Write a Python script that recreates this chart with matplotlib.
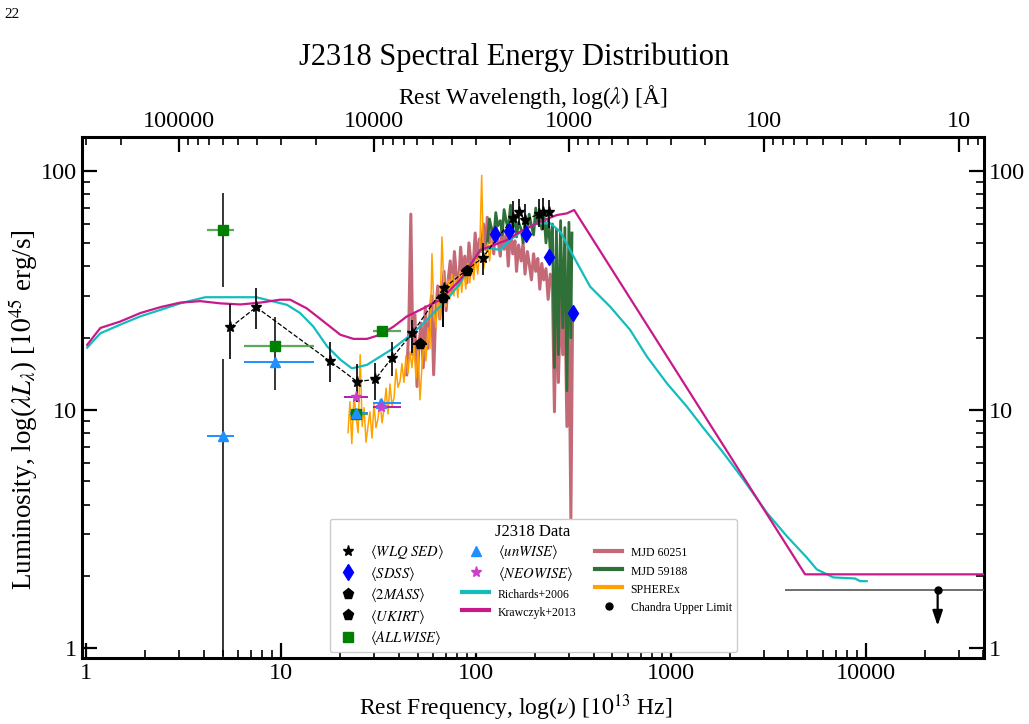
import numpy as np
import matplotlib
matplotlib.use("Agg")
import matplotlib.pyplot as plt
from matplotlib.ticker import FuncFormatter, FixedLocator, LogLocator, NullFormatter

plt.rcParams['font.family'] = ['Liberation Serif', 'DejaVu Serif']
plt.rcParams['mathtext.fontset'] = 'stix'

# frequencies in 1e13 Hz, luminosities in 1e45 erg/s

# WLQ SED composite (stars joined by dashed line)
nu_wlq = [5.48, 7.44, 17.7, 24.5, 30.3, 36.8, 47.1, 68.0, 108, 154, 165, 178, 209, 221, 235]
L_wlq = [22.1, 26.9, 16.0, 13.1, 13.4, 16.4, 21.0, 32.3, 43.4, 63.4, 67.6, 62.3, 66.1, 67.6, 67.6]
wlq_lo = [5.8, 5.2, 3.0, 2.3, 2.4, 2.6, 3.7, 1.0, 6.7, 6.8, 8.2, 7.2, 7.8, 11.0, 9.8]
wlq_hi = [5.7, 5.3, 3.3, 2.5, 2.3, 2.9, 2.8, 1.0, 6.7, 11.7, 8.8, 10.5, 10.3, 9.5, 8.1]

# SDSS photometry
nu_sdss = [124.7, 148, 180, 237, 313]
L_sdss = [54.3, 56.3, 54.3, 43.5, 25.5]

# 2MASS / UKIRT
nu_2mass = [67.2, 89.2]
L_2mass = [29.3, 38.2]
nu2mass_lo = [62.1, 83.7]
nu2mass_hi = [73.5, 96.2]
L2mass_lo = [7.1, 0.0]
L2mass_hi = [1.0, 0.0]
nu_ukirt = [51.6]
L_ukirt = [18.8]
nuukirt_lo = [47.5]
nuukirt_hi = [56.1]

# ALLWISE
nu_allwise = [5.04, 9.31, 24.2, 32.8]
L_allwise = [56.8, 18.4, 9.6, 21.3]
nuall_lo = [4.16, 6.41, 22.4, 29.4]
nuall_hi = [5.69, 14.8, 27.7, 41.1]
Lall_lo = [24.0, 6.3, 0.0, 0.8]
Lall_hi = [23.9, 6.1, 0.0, 0.8]

# unWISE
nu_unwise = [5.04, 9.31, 24.2, 32.6]
L_unwise = [7.73, 15.9, 9.7, 10.7]
nuun_lo = [4.16, 6.41, 22.4, 29.4]
nuun_hi = [5.69, 14.8, 27.7, 41.1]
Lun_lo = [6.8, 0.0, 0.0, 0.0]
Lun_hi = [8.5, 0.0, 0.0, 0.0]

# NEOWISE
nu_neowise = [24.2, 32.6]
L_neowise = [11.3, 10.3]
nuneo_lo = [21.1, 29.4]
nuneo_hi = [27.7, 41.1]

# Chandra upper limit
nu_chandra = [23300]
L_chandra = [1.75]
nu_chandra_lo = [3850]
nu_chandra_hi = [60000]
L_chandra_arrow = [1.24]

# Richards+2006 mean quasar SED
nu_rich = [1.01, 1.18, 1.49, 1.89, 2.40, 3.03, 4.08, 7.44, 9.13, 10.7, 12.5, 14.6, 17.2,
           20.1, 23.0, 27.5, 32.2, 37.7, 44.1, 51.6, 60.4, 70.7, 82.8, 89.6, 105, 118,
           133, 149, 175, 205, 240, 270, 316, 384, 487, 616, 751, 951, 1204, 1464,
           1854, 2349, 3096, 3920, 4965, 5588, 6797, 8780, 9316, 10080]
L_rich = [18.2, 20.9, 22.7, 24.6, 26.2, 27.9, 29.6, 29.6, 28.4, 27.5, 25.4, 22.3, 18.4,
          16.2, 14.9, 15.4, 16.7, 18.1, 20.0, 22.3, 25.4, 28.9, 33.9, 38.5, 46.7, 47.5,
          46.7, 51.4, 56.6, 60.4, 60.4, 55.7, 43.8, 32.8, 27.0, 21.6, 16.7, 12.9, 10.3, 8.38,
          6.59, 5.09, 3.70, 2.95, 2.40, 2.14, 1.98, 1.96, 1.91, 1.91]

# Krawczyk+2013 mean quasar SED
nu_kraw = [1.01, 1.18, 1.49, 1.89, 2.40, 3.03, 3.84, 4.87, 6.16, 7.80, 9.88, 11.1, 13.5,
           16.5, 20.1, 23.5, 27.5, 32.2, 37.7, 44.1, 51.6, 65.4, 82.8, 105, 123, 144,
           168, 213, 259, 292, 318, 4866, 45000]
L_kraw = [18.7, 22.0, 23.4, 25.4, 26.9, 28.1, 28.5, 27.9, 27.6, 28.1, 28.9, 28.9, 26.6,
          23.4, 20.6, 19.8, 19.8, 20.6, 22.3, 24.6, 26.2, 28.9, 35.0, 46.7, 49.0, 51.4,
          55.7, 61.4, 65.4, 66.5, 68.7, 2.04, 2.04]

# spectra
nu_mjd60251 = [44.0, 45.1, 46.2, 47.3, 48.5, 49.7, 50.9, 52.2, 53.5, 54.8, 56.2, 57.6, 59.0,
               60.5, 62.0, 63.5, 65.1, 66.7, 68.4, 70.1, 71.8, 73.6, 75.4, 77.3, 79.2, 81.2,
               83.2, 85.3, 87.4, 89.6, 91.8, 94.1, 96.4, 98.8, 101, 104, 106, 109, 112, 114,
               117, 120, 123, 126, 129, 133, 136, 139, 143, 146, 150, 154, 158, 161, 165,
               170, 174, 178, 183, 187, 192, 197, 202, 207, 212, 217, 222, 228, 234, 240,
               246, 252, 258, 264, 271, 278, 285, 292, 299, 306, 312]
L_mjd60251 = [14, 22, 66, 17, 25, 12.5, 19, 23, 15, 27, 18, 24, 30,
              14, 26, 33, 24, 31, 38, 26, 35, 42, 31, 46, 36, 33,
              48, 37, 44, 34, 50, 41, 39, 55, 43, 52, 46, 60, 47, 64,
              50, 58, 45, 61, 52, 44, 59, 47, 54, 40, 57, 45, 51, 38, 49,
              42, 50, 37, 46, 41, 35, 45, 38, 43, 32, 41, 35, 39, 29, 37,
              33, 9.8, 34, 13, 29, 17, 30, 8.5, 25, 3.5, 24]

nu_mjd59188 = [114, 117, 120, 123, 126, 129, 133, 136, 139, 143, 146, 150, 154, 158, 161,
               165, 170, 174, 178, 183, 187, 192, 197, 202, 207, 212, 217, 222, 228, 234,
               240, 246, 252, 258, 264, 271, 278, 285, 292, 299, 306, 310]
L_mjd59188 = [50, 63, 57, 52, 67, 59, 62, 54, 69, 61, 57, 72, 58, 65, 53,
              61, 57, 50, 62, 56, 66, 59, 54, 70, 60, 66, 57, 68, 50, 63,
              46, 60, 15, 57, 17, 62, 22, 58, 12, 61, 20, 55]

nu_spherex = [22.0, 22.5, 23.0, 23.6, 24.2, 24.8, 25.4, 26.0, 26.6, 27.2, 27.9, 28.5, 29.2,
              29.9, 30.6, 31.3, 32.1, 32.9, 33.7, 34.5, 35.3, 36.1, 37.0, 37.9, 38.8, 39.7,
              40.7, 41.6, 42.6, 43.6, 44.7, 45.7, 46.8, 48.0, 49.1, 50.3, 51.5, 52.7, 54.0,
              55.2, 56.6, 57.9, 59.3, 60.7, 62.1, 63.6, 65.1, 66.7, 68.3, 69.9, 71.5, 73.2,
              75.0, 76.8, 78.6, 80.5, 82.4, 84.3, 86.3, 88.4, 90.5, 92.7, 94.9, 97.1, 99.4,
              101.8, 104.2, 106.7, 109.2, 111.8, 114.5, 117.2, 120.0]
L_spherex = [8.0, 10.8, 7.2, 11.5, 9.3, 8.0, 17.0, 8.5, 10.2, 7.3, 8.6, 9.8, 7.6,
             10.6, 8.4, 9.1, 11.0, 8.8, 10.2, 12.3, 9.6, 12.8, 10.4, 11.2, 14.8, 12.4,
             13.2, 15.6, 13.0, 16.8, 14.2, 17.5, 15.0, 18.6, 13.5, 17.8, 11.0, 15.2, 19.5,
             16.0, 22.0, 18.0, 45.0, 26.0, 22.0, 30.0, 24.0, 53.0, 33.0, 27.0, 35.0, 29.0,
             37.0, 30.0, 36.0, 29.5, 38.0, 31.0, 39.0, 32.0, 41.0, 34.0, 42.0, 35.0, 44.0,
             37.0, 46.0, 96.0, 39.0, 44.0, 50.0, 42.0, 52.0]

# top axis ticks (rest wavelength, Angstrom)
lam_ticks = [100000, 10000, 1000, 100, 10]

C_RICH = '#14bdbd'
C_KRAW = '#c8198b'
C_60251 = '#c46a77'
C_59188 = '#2f7038'
C_SPHX = '#ffa200'
FS = 17.5

fig = plt.figure(figsize=(10.29, 7.24), dpi=100)
ax = fig.add_axes([0.0797, 0.0912, 0.8766, 0.7196])
ax.set_xscale('log')
ax.set_yscale('log')

# spectra underneath everything
ax.plot(nu_mjd60251, L_mjd60251, color=C_60251, lw=2.2, zorder=1, label='MJD 60251')
ax.plot(nu_mjd59188, L_mjd59188, color=C_59188, lw=2.0, zorder=1.2, label='MJD 59188')
ax.plot(nu_spherex, L_spherex, color=C_SPHX, lw=1.1, zorder=1.4, label='SPHEREx')

# model SEDs
ax.plot(nu_rich, L_rich, color=C_RICH, lw=1.6, zorder=3, label='Richards+2006')
ax.plot(nu_kraw, L_kraw, color=C_KRAW, lw=1.6, zorder=3, label='Krawczyk+2013')

# WLQ SED
ax.plot(nu_wlq, L_wlq, 'k--', lw=0.9, zorder=4)
ax.errorbar(nu_wlq, L_wlq, yerr=[wlq_lo, wlq_hi], fmt='none', ecolor='k', elinewidth=1.2, zorder=4)
ax.plot(nu_wlq, L_wlq, '*', color='k', ms=8, ls='none', zorder=6, label=r'$\langle WLQ\ SED\rangle$')

# SDSS
ax.plot(nu_sdss, L_sdss, 'd', color='blue', ms=8, ls='none', zorder=6, label=r'$\langle SDSS\rangle$')

# 2MASS / UKIRT
x2 = np.array(nu_2mass)
ax.errorbar(nu_2mass, L_2mass, xerr=[x2 - nu2mass_lo, np.array(nu2mass_hi) - x2],
            yerr=[L2mass_lo, L2mass_hi], fmt='none', ecolor='k', elinewidth=1.4, zorder=5)
ax.plot(nu_2mass, L_2mass, 'p', color='k', ms=8, ls='none', zorder=6, label=r'$\langle 2MASS\rangle$')
xu = np.array(nu_ukirt)
ax.errorbar(nu_ukirt, L_ukirt, xerr=[xu - nuukirt_lo, np.array(nuukirt_hi) - xu],
            fmt='none', ecolor='k', elinewidth=1.4, zorder=5)
ax.plot(nu_ukirt, L_ukirt, 'p', color='k', ms=8, ls='none', zorder=6, label=r'$\langle UKIRT\rangle$')

# ALLWISE
xa = np.array(nu_allwise)
ax.errorbar(nu_allwise, L_allwise, xerr=[xa - nuall_lo, np.array(nuall_hi) - xa],
            fmt='none', ecolor='#3f9a3f', elinewidth=1.6, alpha=0.85, zorder=5)
ax.errorbar(nu_allwise, L_allwise, yerr=[Lall_lo, Lall_hi], fmt='none', ecolor='k',
            elinewidth=1.1, zorder=5)
ax.plot(nu_allwise, L_allwise, 's', color='green', ms=7.5, ls='none', zorder=6, label=r'$\langle ALLWISE\rangle$')

# unWISE
xw = np.array(nu_unwise)
ax.errorbar(nu_unwise, L_unwise, xerr=[xw - nuun_lo, np.array(nuun_hi) - xw],
            fmt='none', ecolor='dodgerblue', elinewidth=1.4, zorder=5)
ax.errorbar(nu_unwise, L_unwise, yerr=[Lun_lo, Lun_hi], fmt='none', ecolor='k',
            elinewidth=1.1, zorder=5)
ax.plot(nu_unwise, L_unwise, '^', color='dodgerblue', ms=7, ls='none', zorder=6, label=r'$\langle unWISE\rangle$')

# NEOWISE
xn = np.array(nu_neowise)
ax.errorbar(nu_neowise, L_neowise, xerr=[xn - nuneo_lo, np.array(nuneo_hi) - xn],
            fmt='none', ecolor='#b21cb2', elinewidth=1.4, zorder=5)
ax.plot(nu_neowise, L_neowise, '*', color='#cc3fcc', ms=8, ls='none', zorder=6, label=r'$\langle NEOWISE\rangle$')

# Chandra upper limit
xc = np.array(nu_chandra)
ax.errorbar(nu_chandra, L_chandra, xerr=[xc - nu_chandra_lo, np.array(nu_chandra_hi) - xc],
            fmt='none', ecolor='#555555', elinewidth=1.2, zorder=5)
ax.plot(nu_chandra, L_chandra, 'o', color='k', ms=5, ls='none', zorder=6, label='Chandra Upper Limit')
ax.annotate('', xy=(nu_chandra[0], L_chandra_arrow[0]), xytext=(nu_chandra[0], L_chandra[0]),
            arrowprops=dict(arrowstyle='-|>,head_length=0.9,head_width=0.3', color='k', lw=1.6,
                            shrinkA=0, shrinkB=0), zorder=6)

ax.set_xlim(0.95, 40300)
ax.set_ylim(0.91, 139)

fmt = FuncFormatter(lambda v, p: f'{v:g}')
ax.xaxis.set_major_formatter(fmt)
ax.yaxis.set_major_formatter(fmt)
ax.xaxis.set_minor_formatter(NullFormatter())
ax.yaxis.set_minor_formatter(NullFormatter())
ax.tick_params(which='both', direction='in', top=False, right=True, labelright=True, labelsize=FS)
ax.tick_params(which='major', length=11, width=1.6)
ax.tick_params(which='minor', length=5.5, width=1.2)
for s in ax.spines.values():
    s.set_linewidth(2.2)


def nu2lam(x):
    x = np.asarray(x, dtype=float)
    with np.errstate(divide='ignore'):
        return 2.998e5 / x


sec = ax.secondary_xaxis('top', functions=(nu2lam, nu2lam))
sec.xaxis.set_major_locator(FixedLocator(lam_ticks))
sec.xaxis.set_minor_locator(LogLocator(base=10, subs=np.arange(2, 10)))
sec.xaxis.set_major_formatter(fmt)
sec.xaxis.set_minor_formatter(NullFormatter())
sec.tick_params(which='both', direction='in', labelsize=FS)
sec.tick_params(which='major', length=11, width=1.6)
sec.tick_params(which='minor', length=5.5, width=1.2)
sec.set_xlabel(r'Rest Wavelength, log($\lambda$) [Å]', fontsize=17, labelpad=5)

ax.set_xlabel(r'Rest Frequency, log($\nu$) [$10^{13}$ Hz]', fontsize=17)
ax.xaxis.set_label_coords(0.481, -0.066)
ax.set_ylabel(r'Luminosity, log($\lambda L_{\lambda}$) [$10^{45}$ erg/s]', fontsize=19.5)
ax.yaxis.set_label_coords(-0.0465, 0.476)

fig.suptitle('J2318 Spectral Energy Distribution', fontsize=22, y=0.921, va='center')
fig.text(12 / 1029, 1 - 15 / 724, '22', ha='center', va='center', fontsize=11)

order = [r'$\langle WLQ\ SED\rangle$', r'$\langle SDSS\rangle$', r'$\langle 2MASS\rangle$',
         r'$\langle UKIRT\rangle$', r'$\langle ALLWISE\rangle$', r'$\langle unWISE\rangle$',
         r'$\langle NEOWISE\rangle$', 'Richards+2006', 'Krawczyk+2013', 'MJD 60251',
         'MJD 59188', 'SPHEREx', 'Chandra Upper Limit']
hs, ls = ax.get_legend_handles_labels()
lookup = dict(zip(ls, hs))
leg = ax.legend([lookup[k] for k in order], order, ncol=3, loc='lower center',
                bbox_to_anchor=(0.5, 0.0), fontsize=8.5, title='J2318 Data', title_fontsize=12,
                framealpha=1, edgecolor='#cccccc', columnspacing=1.6, handlelength=2.3,
                handleheight=1.55, handletextpad=0.7, labelspacing=0.3)
for t in leg.get_texts():
    if t.get_text().startswith('$'):
        t.set_fontsize(10.5)
for line in leg.get_lines():
    if line.get_linestyle() == '-':
        line.set_linewidth(3)

fig.savefig('out.png', dpi=100)
